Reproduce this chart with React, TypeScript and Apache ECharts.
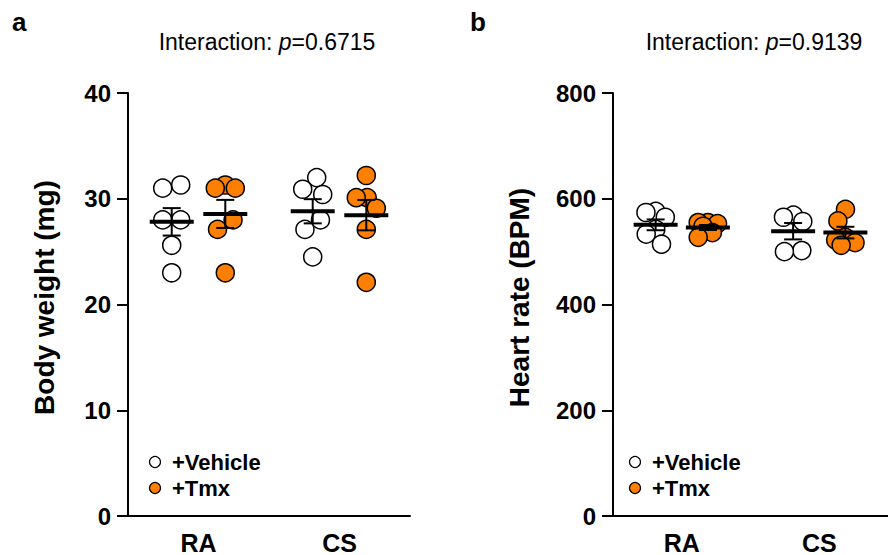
import React, { useEffect, useRef } from "react";
import * as echarts from "echarts";

// ---------- data ----------
const categories = ["RA", "CS"];
const groupNames = ["+Vehicle", "+Tmx"];
const panelLetters = ["a", "b"];
const interactionP = ["0.6715", "0.9139"];
const yAxisNames = ["Body weight (mg)", "Heart rate (BPM)"];
const bodyWeightTicks = [0, 10, 20, 30, 40];
const heartRateTicks = [0, 200, 400, 600, 800];

const bwVehicleRA = [31.0, 31.3, 28.0, 28.0, 25.6, 23.0];
const bwTmxRA = [31.0, 31.3, 31.0, 28.0, 27.1, 23.0];
const bwVehicleCS = [32.0, 30.9, 30.4, 28.0, 27.1, 24.5];
const bwTmxCS = [32.2, 30.1, 30.1, 29.1, 27.1, 22.1];

const hrVehicleRA = [576, 574, 565, 542, 533, 514];
const hrTmxRA = [555, 555, 553, 548, 536, 527];
const hrVehicleCS = [569, 565, 557, 502, 500];
const hrTmxCS = [580, 558, 527, 522, 517, 512];

// ---------- styling / layout ----------
const FONT = "'Liberation Sans', Arial, Helvetica, sans-serif";
const COLORS = ["#ffffff", "#ff8000"];
const GRID_TOP = 93;
const GRID_H = 425;
const PANELS = [
  { left: 128, width: 282, ticks: bodyWeightTicks, nameGap: 70, titleX: 267, letterX: 12, legendX: 155, data: [[bwVehicleRA, bwTmxRA], [bwVehicleCS, bwTmxCS]] },
  { left: 613, width: 284, ticks: heartRateTicks, nameGap: 80, titleX: 754, letterX: 470, legendX: 635, data: [[hrVehicleRA, hrTmxRA], [hrVehicleCS, hrTmxCS]] },
];
const GROUP_OFFSET = 0.19;
const DOT = 18;
const MAX_SPAN = 20;

function meanSem(v: number[]) {
  const n = v.length;
  const m = v.reduce((a, b) => a + b, 0) / n;
  const sd = Math.sqrt(v.reduce((a, b) => a + (b - m) * (b - m), 0) / (n - 1));
  return [m, sd / Math.sqrt(n)];
}

// beeswarm-like layout, returns horizontal pixel offset per value
function swarm(values: number[], pxPerVal: number) {
  const d = DOT;
  const pts = values.map((v) => ({ v, y: -v * pxPerVal })).sort((a, b) => a.y - b.y);
  const bins: any[][] = [];
  let cur: any[] = [];
  for (const p of pts) {
    if (cur.length && p.y - cur[cur.length - 1].y >= d) {
      bins.push(cur);
      cur = [];
    }
    cur.push(p);
  }
  if (cur.length) bins.push(cur);
  const out: { v: number; dx: number }[] = [];
  for (const bin of bins) {
    const placed: any[] = [];
    for (const p of bin) {
      const cands = [0];
      for (let s = 0.5; s <= d + 1e-9; s += 0.5) cands.push(-s, s);
      let best = 0;
      let bestScore = -Infinity;
      for (const x of cands) {
        let md = Infinity;
        for (const q of placed) md = Math.min(md, Math.hypot(x - q.x, p.y - q.y));
        if (md >= d - 1e-6) {
          best = x;
          break;
        }
        if (md > bestScore + 1e-9) {
          bestScore = md;
          best = x;
        }
      }
      placed.push({ ...p, x: best });
    }
    const xs = placed.map((q) => q.x);
    const mn = Math.min(...xs);
    const mx = Math.max(...xs);
    const c = (mn + mx) / 2;
    const span = mx - mn;
    const k = span > MAX_SPAN ? MAX_SPAN / span : 1;
    for (const q of placed) out.push({ v: q.v, dx: (q.x - c) * k });
  }
  return out;
}

function buildOption() {
  const grid: any[] = [];
  const xAxis: any[] = [];
  const yAxis: any[] = [];
  const series: any[] = [];
  const graphic: any[] = [];

  PANELS.forEach((P, pi) => {
    const yMax = P.ticks[P.ticks.length - 1];
    const interval = P.ticks[1] - P.ticks[0];
    grid.push({ left: P.left, top: GRID_TOP, width: P.width, height: GRID_H, containLabel: false });
    xAxis.push({
      type: "category",
      gridIndex: pi,
      data: categories,
      boundaryGap: true,
      axisLine: { onZero: false, lineStyle: { color: "#000", width: 2 } },
      axisTick: { alignWithLabel: true, length: 10, lineStyle: { color: "#000", width: 2 } },
      axisLabel: { color: "#000", fontFamily: FONT, fontWeight: "bold", fontSize: 25, margin: 14 },
      splitLine: { show: false },
    });
    xAxis.push({ type: "value", gridIndex: pi, min: -0.5, max: 1.5, show: false, splitLine: { show: false } });
    yAxis.push({
      type: "value",
      gridIndex: pi,
      min: 0,
      max: yMax,
      interval,
      name: yAxisNames[pi],
      nameLocation: "middle",
      nameGap: P.nameGap,
      nameTextStyle: { color: "#000", fontFamily: FONT, fontWeight: "bold", fontSize: 28, padding: [0, 0, 0, 14] },
      axisLine: { show: true, onZero: false, lineStyle: { color: "#000", width: 2 } },
      axisTick: { show: true, length: 11, lineStyle: { color: "#000", width: 2 } },
      axisLabel: { color: "#000", fontFamily: FONT, fontWeight: "bold", fontSize: 24, margin: 17 },
      splitLine: { show: false },
    });

    const pxPerVal = GRID_H / yMax;
    const pxPerX = P.width / categories.length;
    const summary: any[] = [];
    groupNames.forEach((g, ti) => {
      const pts: any[] = [];
      categories.forEach((c, ci) => {
        const vals = P.data[ci][ti];
        const center = ci + (ti === 0 ? -GROUP_OFFSET : GROUP_OFFSET);
        swarm(vals, pxPerVal).forEach((s) => pts.push([center + s.dx / pxPerX, s.v]));
        const [m, se] = meanSem(vals);
        summary.push([center, m, se]);
      });
      series.push({
        type: "scatter",
        name: g,
        xAxisIndex: pi * 2 + 1,
        yAxisIndex: pi,
        symbol: "circle",
        symbolSize: DOT,
        z: 2,
        itemStyle: { color: COLORS[ti], borderColor: "#000", borderWidth: 1.5, opacity: 1 },
        data: pts,
      });
    });
    series.push({
      type: "custom",
      xAxisIndex: pi * 2 + 1,
      yAxisIndex: pi,
      z: 5,
      clip: false,
      data: summary,
      renderItem: (params: any, api: any) => {
        const x = api.value(0);
        const m = api.value(1);
        const s = api.value(2);
        const c = api.coord([x, m]);
        const t = api.coord([x, m + s]);
        const b = api.coord([x, m - s]);
        const st = { stroke: "#000", lineWidth: 2 };
        return {
          type: "group",
          children: [
            { type: "line", shape: { x1: c[0], y1: t[1], x2: c[0], y2: b[1] }, style: st },
            { type: "line", shape: { x1: c[0] - 9, y1: t[1], x2: c[0] + 9, y2: t[1] }, style: st },
            { type: "line", shape: { x1: c[0] - 9, y1: b[1], x2: c[0] + 9, y2: b[1] }, style: st },
            { type: "line", shape: { x1: c[0] - 22, y1: c[1], x2: c[0] + 22, y2: c[1] }, style: { stroke: "#000", lineWidth: 4 } },
          ],
        };
      },
    });

    // panel letter and title
    graphic.push({
      type: "text",
      left: P.letterX,
      top: 9,
      style: { text: panelLetters[pi], font: `bold 26px ${FONT}`, fill: "#000" },
    });
    graphic.push({
      type: "text",
      x: P.titleX,
      y: 42,
      style: {
        text: `{n|Interaction: }{i|p}{n|=${interactionP[pi]}}`,
        align: "center",
        verticalAlign: "middle",
        rich: {
          n: { fontFamily: FONT, fontSize: 23, fill: "#000", color: "#000" },
          i: { fontFamily: FONT, fontSize: 23, fontStyle: "italic", fill: "#000", color: "#000" },
        },
      },
    });
    // legend
    groupNames.forEach((g, ti) => {
      const cy = 462 + ti * 26;
      graphic.push({
        type: "circle",
        shape: { cx: P.legendX, cy, r: 5.5 },
        style: { fill: COLORS[ti], stroke: "#000", lineWidth: 1.2 },
      });
      graphic.push({
        type: "text",
        x: P.legendX + 17,
        y: cy,
        style: { text: g, font: `bold 22px ${FONT}`, fill: "#000", verticalAlign: "middle", align: "left" },
      });
    });
  });

  return { animation: false, backgroundColor: "#fff", grid, xAxis, yAxis, series, graphic };
}

export default function App() {
  const ref = useRef<HTMLDivElement>(null);
  useEffect(() => {
    if (!ref.current) return;
    const chart = echarts.init(ref.current, undefined, { renderer: "svg" });
    chart.setOption(buildOption() as any);
    return () => chart.dispose();
  }, []);
  return (
    <div
      ref={ref}
      style={{ position: "fixed", left: 0, top: 0, width: 888, height: 555, background: "#fff" }}
    />
  );
}
